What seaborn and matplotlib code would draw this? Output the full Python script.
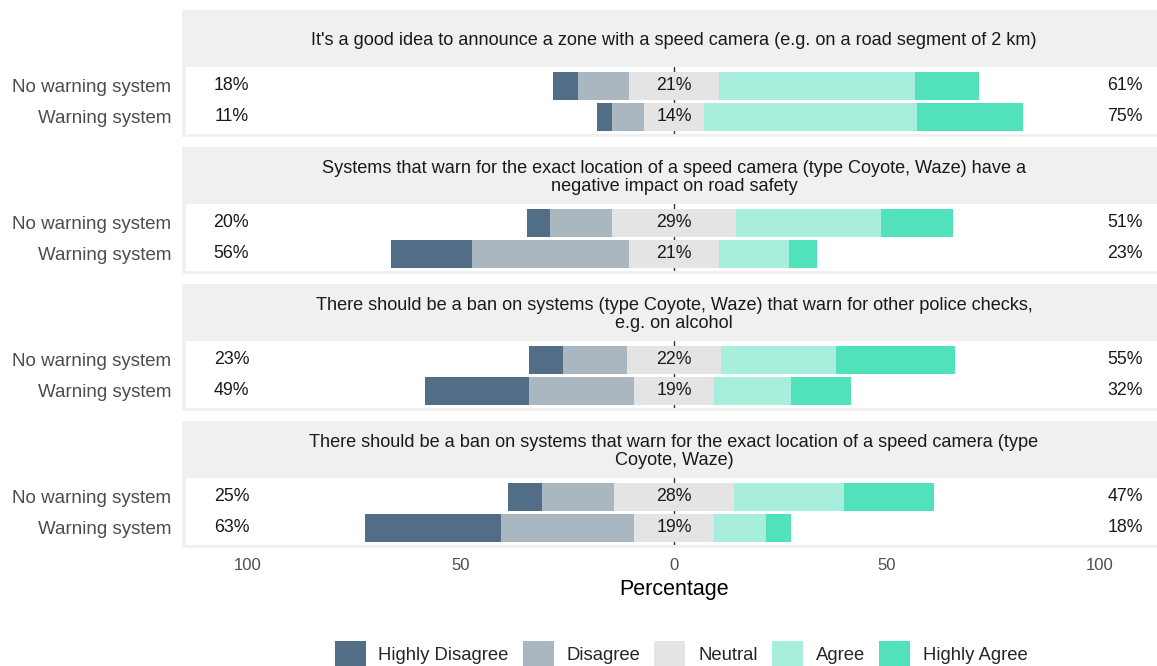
import pandas as pd
import matplotlib.pyplot as plt
import seaborn as sns
from matplotlib.patches import Patch

# Data (percent of respondents per answer)
statements = [
    "It's a good idea to announce a zone with a speed camera (e.g. on a road segment of 2 km)",
    "Systems that warn for the exact location of a speed camera (type Coyote, Waze) have a\nnegative impact on road safety",
    "There should be a ban on systems (type Coyote, Waze) that warn for other police checks,\ne.g. on alcohol",
    "There should be a ban on systems that warn for the exact location of a speed camera (type\nCoyote, Waze)",
]
groups = ["No warning system", "Warning system"]
levels = ["Highly Disagree", "Disagree", "Neutral", "Agree", "Highly Agree"]

# rows: statement 1 (no warning, warning), statement 2 (...), ...
highly_disagree = [6, 3.5, 5.5, 19, 8, 24.5, 8, 32]
disagree = [12, 7.5, 14.5, 37, 15, 24.5, 17, 31]
neutral = [21, 14, 29, 21, 22, 19, 28, 19]
agree = [46, 50, 34, 16.5, 27, 18, 26, 12]
highly_agree = [15, 25, 17, 6.5, 28, 14, 21, 6]

colors = {"Highly Disagree": "#526E86", "Disagree": "#AAB6C0", "Neutral": "#E4E4E4",
          "Agree": "#A8EEDC", "Highly Agree": "#51E1BB"}

sns.set_theme(style="white")
plt.rcParams['font.family'] = ['Liberation Sans', 'DejaVu Sans']

df = pd.DataFrame({
    'statement': [s for s in statements for _ in groups],
    'group': groups * len(statements),
    'hd': highly_disagree, 'd': disagree, 'n': neutral, 'a': agree, 'ha': highly_agree,
})
# cumulative extents from zero (neutral split around centre)
df['left_hd'] = -(df['n'] / 2 + df['d'] + df['hd'])
df['left_d'] = -(df['n'] / 2 + df['d'])
df['left_n'] = -df['n'] / 2
df['right_ha'] = df['n'] / 2 + df['a'] + df['ha']
df['right_a'] = df['n'] / 2 + df['a']
df['right_n'] = df['n'] / 2

W, H = 1157, 666
fig = plt.figure(figsize=(W / 100, H / 100), dpi=100)


def box(l, t, r, b):
    return [l / W, 1 - b / H, (r - l) / W, (b - t) / H]


x0 = 674
scale = 4.26
layers = [('left_hd', "Highly Disagree"), ('left_d', "Disagree"), ('left_n', "Neutral"),
          ('right_ha', "Highly Agree"), ('right_a', "Agree"), ('right_n', "Neutral")]

for k, stmt in enumerate(statements):
    top = 10 + 137 * k
    # gray strip + frame
    bg = fig.add_axes(box(182, top, 1157, top + 127))
    bg.set_facecolor('#F0F0F0')
    bg.set_xticks([]); bg.set_yticks([])
    for sp in bg.spines.values():
        sp.set_visible(False)
    fig.text(674 / W, 1 - (top + 30.5) / H, stmt, ha='center', va='center',
             fontsize=13.1, color='#1A1A1A', linespacing=1.1)

    ax = fig.add_axes(box(186, top + 57, 1157, top + 124))
    ax.set_facecolor('white')
    sub = df[df['statement'] == stmt]
    ax.axvline(0, color='#333333', lw=1, zorder=0.5)
    for col, lev in layers:
        sns.barplot(data=sub, y='group', x=col, orient='h', order=groups,
                    color=colors[lev], saturation=1, width=0.9, linewidth=0,
                    errorbar=None, ax=ax)
    for i, (_, row) in enumerate(sub.iterrows()):
        low = row['hd'] + row['d']
        high = row['a'] + row['ha']
        ax.text(-103.9, i, f"{low:.0f}%", ha='center', va='center', fontsize=12.8, color='#1A1A1A')
        ax.text(0, i, f"{row['n']:.0f}%", ha='center', va='center', fontsize=12.8, color='#1A1A1A')
        ax.text(105.9, i, f"{high:.0f}%", ha='center', va='center', fontsize=12.8, color='#1A1A1A')

    ax.set_xlim((186 - x0) / scale, (1157 - x0) / scale)
    ax.set_ylim(1.55, -0.6)
    ax.set_ylabel('')
    ax.set_xlabel('')
    for sp in ax.spines.values():
        sp.set_visible(False)
    ax.tick_params(axis='y', length=0, pad=10.8, labelsize=13.5, labelcolor='#4D4D4D')
    ax.set_xticks([-100, -50, 0, 50, 100])
    if k == len(statements) - 1:
        ax.set_xticklabels(['100', '50', '0', '50', '100'])
        ax.tick_params(axis='x', length=0, pad=9, labelsize=12, labelcolor='#4D4D4D')
    else:
        ax.set_xticklabels([])
        ax.tick_params(axis='x', length=0)

fig.text(x0 / W, 1 - 590 / H, "Percentage", ha='center', va='center', fontsize=15.5, color='black')

handles = [Patch(facecolor=colors[l], edgecolor='none', label=l) for l in levels]
fig.legend(handles=handles, ncol=5, loc='center', bbox_to_anchor=(681 / W, 1 - 653.5 / H),
           frameon=False, fontsize=13.3, handlelength=1.68, handleheight=1.68,
           handletextpad=0.7, columnspacing=0.75)

fig.savefig('out.png', dpi=100)
